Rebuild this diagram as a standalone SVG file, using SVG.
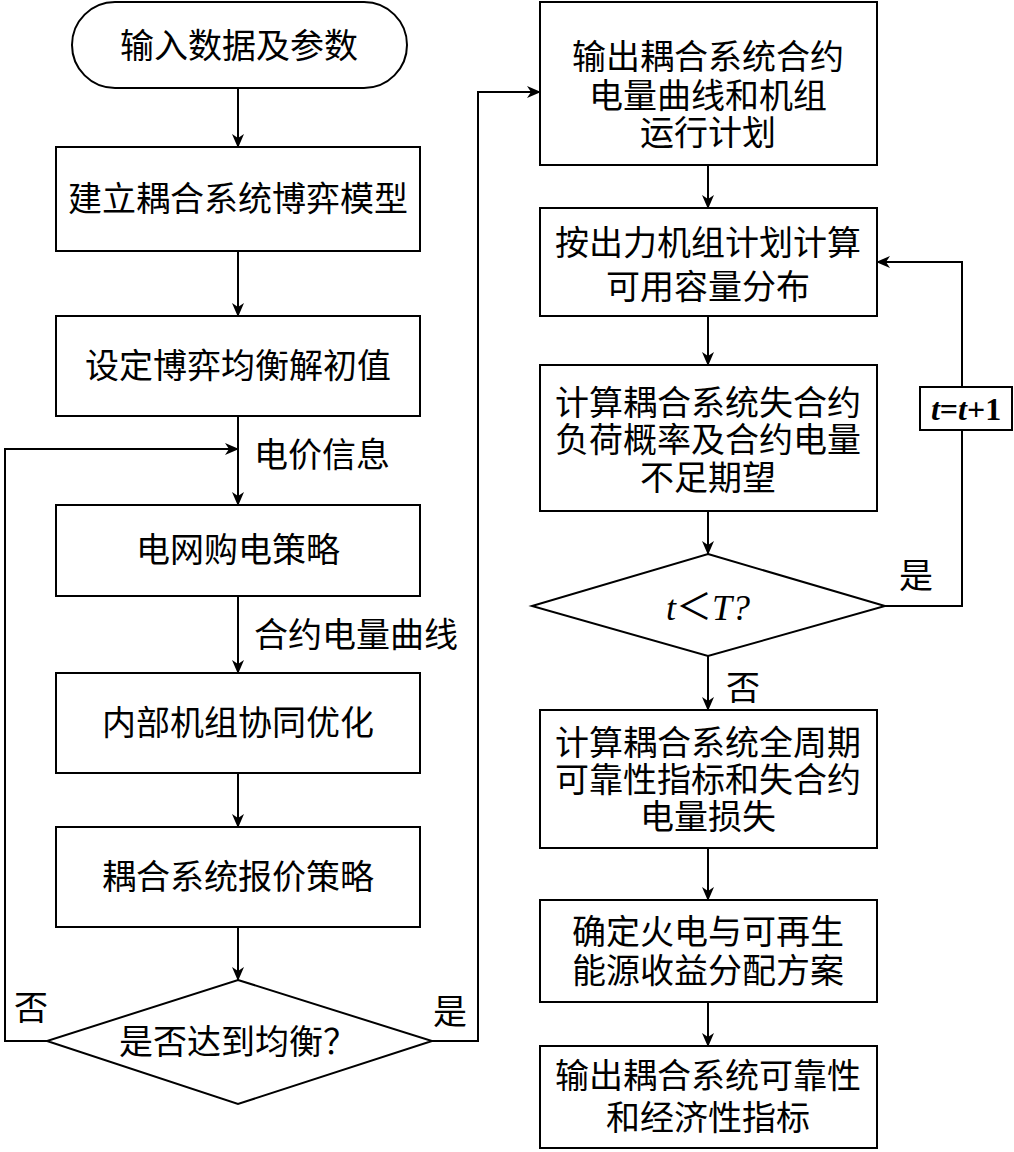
<svg xmlns="http://www.w3.org/2000/svg" width="1014" height="1152" viewBox="0 0 1014 1152">
<style>
.n{fill:#fff;stroke:#000;stroke-width:2}
.c{fill:none;stroke:#000;stroke-width:2}
text{font-family:"Liberation Serif","Noto Sans CJK SC",serif;font-size:34px;fill:#000;text-anchor:middle;dominant-baseline:central}
.l{text-anchor:start}
.i{font-style:italic}
</style>
<defs>
<marker id="a" viewBox="0 0 14 12" refX="13" refY="6" markerWidth="14" markerHeight="12" markerUnits="userSpaceOnUse" orient="auto">
<path d="M0,0 L14,6 L0,12 L4,6 z" fill="#000"/>
</marker>
</defs>
<rect width="1014" height="1152" fill="#fff"/>
<g id="connectors">
<path class="c" d="M238,88 V147" marker-end="url(#a)"/>
<path class="c" d="M238,251 V316" marker-end="url(#a)"/>
<path class="c" d="M238,416 V505" marker-end="url(#a)"/>
<path class="c" d="M238,596 V673" marker-end="url(#a)"/>
<path class="c" d="M238,773 V827" marker-end="url(#a)"/>
<path class="c" d="M238,927 V980" marker-end="url(#a)"/>
<path class="c" d="M47,1041 H5 V449 H238" marker-end="url(#a)"/>
<path class="c" d="M432,1041 H478 V92 H540" marker-end="url(#a)"/>
<path class="c" d="M708,165 V208" marker-end="url(#a)"/>
<path class="c" d="M708,316 V365" marker-end="url(#a)"/>
<path class="c" d="M708,511 V554" marker-end="url(#a)"/>
<path class="c" d="M708,656 V710" marker-end="url(#a)"/>
<path class="c" d="M708,848 V900" marker-end="url(#a)"/>
<path class="c" d="M708,1002 V1046" marker-end="url(#a)"/>
<path class="c" d="M885,606 H962 V262 H877" marker-end="url(#a)"/>
<text class="l" x="254" y="455">电价信息</text>
<text class="l" x="254" y="635">合约电量曲线</text>
<text x="31" y="1008">否</text>
<text x="450" y="1012">是</text>
<text x="916" y="576">是</text>
<text x="743" y="688">否</text>
</g>
<g id="start">
<rect class="n" x="72" y="2" width="335" height="86" rx="43" ry="43"/>
<text x="239" y="46">输入数据及参数</text>
</g>
<g id="model">
<rect class="n" x="56" y="147" width="364" height="104"/>
<text x="238" y="199">建立耦合系统博弈模型</text>
</g>
<g id="init">
<rect class="n" x="56" y="316" width="364" height="100"/>
<text x="238" y="366">设定博弈均衡解初值</text>
</g>
<g id="grid">
<rect class="n" x="56" y="505" width="364" height="91"/>
<text x="238" y="550">电网购电策略</text>
</g>
<g id="unit">
<rect class="n" x="56" y="673" width="364" height="100"/>
<text x="238" y="723">内部机组协同优化</text>
</g>
<g id="bid">
<rect class="n" x="56" y="827" width="364" height="100"/>
<text x="238" y="877">耦合系统报价策略</text>
</g>
<g id="eq">
<polygon class="n" points="238,980 432,1041 238,1104 47,1041"/>
<text x="238" y="1042">是否达到均衡？</text>
</g>
<g id="out1">
<rect class="n" x="540" y="2" width="337" height="163"/>
<text x="708" y="57">输出耦合系统合约</text>
<text x="708" y="96">电量曲线和机组</text>
<text x="708" y="133">运行计划</text>
</g>
<g id="cap">
<rect class="n" x="540" y="208" width="337" height="108"/>
<text x="708" y="243">按出力机组计划计算</text>
<text x="708" y="287">可用容量分布</text>
</g>
<g id="lolp">
<rect class="n" x="540" y="365" width="337" height="146"/>
<text x="708" y="403">计算耦合系统失合约</text>
<text x="708" y="440">负荷概率及合约电量</text>
<text x="708" y="478">不足期望</text>
</g>
<g id="cond">
<polygon class="n" points="708,554 885,606 708,656 532,606"/>
<text x="708" y="608" style="font-size:36px"><tspan class="i">t</tspan>＜<tspan class="i">T</tspan><tspan class="i">?</tspan></text>
</g>
<g id="inc">
<rect class="n" x="920" y="387" width="92" height="43"/>
<text x="966" y="409" style="font-weight:bold;font-size:32px"><tspan class="i">t</tspan>=<tspan class="i">t</tspan>+1</text>
</g>
<g id="rel">
<rect class="n" x="540" y="710" width="337" height="138"/>
<text x="708" y="743">计算耦合系统全周期</text>
<text x="708" y="780">可靠性指标和失合约</text>
<text x="708" y="817">电量损失</text>
</g>
<g id="share">
<rect class="n" x="540" y="900" width="337" height="102"/>
<text x="708" y="932">确定火电与可再生</text>
<text x="708" y="971">能源收益分配方案</text>
</g>
<g id="out2">
<rect class="n" x="540" y="1046" width="337" height="102"/>
<text x="708" y="1076">输出耦合系统可靠性</text>
<text x="708" y="1118">和经济性指标</text>
</g>
</svg>
